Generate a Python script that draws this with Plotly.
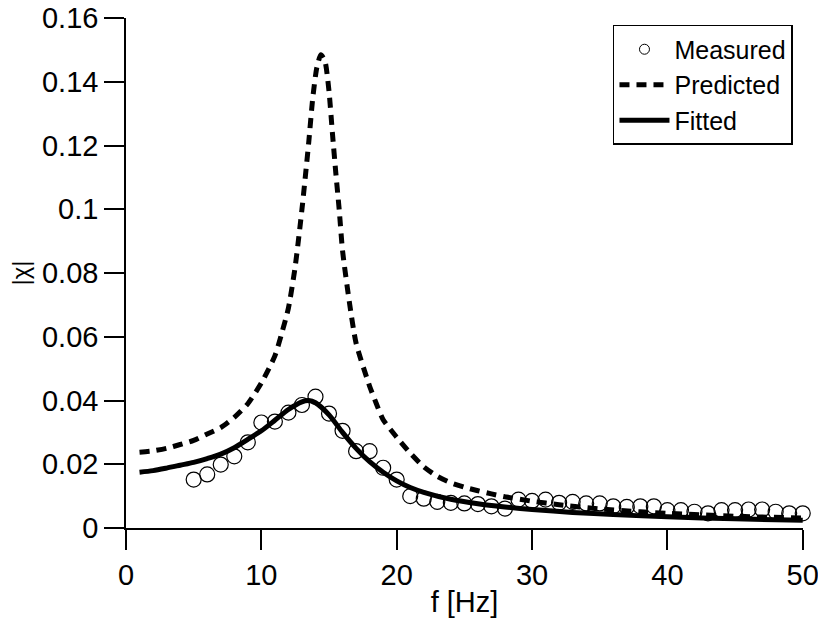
import plotly.graph_objects as go

# Measured data (open circles)
meas_f = list(range(5, 51))
meas_chi = [0.0152, 0.0168, 0.0199, 0.0225, 0.0269, 0.0331, 0.0334, 0.0362, 0.0386, 0.0412,
            0.0359, 0.0305, 0.0241, 0.0241, 0.0189, 0.0152, 0.0100, 0.0092, 0.0082, 0.0079,
            0.0077, 0.0075, 0.0068, 0.0061, 0.0089, 0.0085, 0.0089, 0.0079, 0.0082, 0.0077,
            0.0077, 0.0068, 0.0066, 0.0068, 0.0068, 0.0056, 0.0056, 0.0051, 0.0046, 0.0056,
            0.0056, 0.0058, 0.0058, 0.0051, 0.0046, 0.0046]

# Predicted curve (dashed)
pred_f = [1, 2, 3, 4, 5, 6, 7, 8, 9, 10, 11, 11.5, 12, 12.5, 13, 13.5, 13.8, 14.1, 14.4,
          14.7, 15.0, 15.25, 15.5, 15.75, 16, 16.5, 17, 18, 18.5, 19, 20, 21, 22, 23, 24,
          25, 26, 27, 28, 30, 32, 35, 38, 40, 45, 50]
pred_chi = [0.0238, 0.0242, 0.0250, 0.0262, 0.0275, 0.0295, 0.0315, 0.0347, 0.0390, 0.0455,
            0.0540, 0.0610, 0.0690, 0.0820, 0.1000, 0.1210, 0.1350, 0.1445, 0.1485,
            0.1465, 0.1370, 0.1240, 0.1115, 0.1000, 0.0870, 0.0710, 0.0580, 0.0445, 0.0390,
            0.0340, 0.0285, 0.0235, 0.0192, 0.0162, 0.0142, 0.0128, 0.0117, 0.0107, 0.0098,
            0.0084, 0.0073, 0.0060, 0.0051, 0.0046, 0.0037, 0.0031]

# Fitted curve (solid)
fit_f = [1, 2, 3, 4, 5, 6, 7, 8, 9, 10, 11, 12, 13, 13.5, 14, 15, 16, 17, 18, 19, 20, 21,
         22, 24, 26, 28, 30, 33, 36, 40, 45, 50]
fit_chi = [0.0175, 0.0180, 0.0188, 0.0197, 0.0206, 0.0218, 0.0232, 0.0252, 0.0278, 0.0305,
           0.0338, 0.0372, 0.0396, 0.0400, 0.0393, 0.0355, 0.0300, 0.0250, 0.0208, 0.0175,
           0.0148, 0.0127, 0.0112, 0.0090, 0.0076, 0.0066, 0.0058, 0.0049, 0.0042, 0.0035,
           0.0029, 0.0024]

x_ticks = [0, 10, 20, 30, 40, 50]
y_ticks = [0, 0.02, 0.04, 0.06, 0.08, 0.1, 0.12, 0.14, 0.16]
y_tick_text = ["0", "0.02", "0.04", "0.06", "0.08", "0.1", "0.12", "0.14", "0.16"]

FONT = "Liberation Sans, Arial, Helvetica, sans-serif"

fig = go.Figure()
fig.add_trace(go.Scatter(
    x=meas_f, y=meas_chi, mode="markers", name="Measured", showlegend=False,
    marker=dict(symbol="circle-open", size=15, color="black", line=dict(width=1.2, color="black")),
    cliponaxis=False,
))
# legend entry for measured with smaller symbol (no data drawn)
fig.add_trace(go.Scatter(
    x=[None], y=[None], mode="markers", name="Measured", legendrank=1,
    marker=dict(symbol="circle-open", size=10, color="black", line=dict(width=1, color="black")),
))
fig.add_trace(go.Scatter(
    x=pred_f, y=pred_chi, mode="lines", name="Predicted", legendrank=2,
    line=dict(color="black", width=5, dash="10px,7px", shape="spline", smoothing=0.6),
))
fig.add_trace(go.Scatter(
    x=fit_f, y=fit_chi, mode="lines", name="Fitted", legendrank=3,
    line=dict(color="black", width=5, shape="spline", smoothing=0.8),
))

fig.update_layout(
    width=818, height=620,
    margin=dict(l=126, r=15, t=18, b=92),
    paper_bgcolor="white", plot_bgcolor="white",
    font=dict(family=FONT, color="black", size=29),
    showlegend=True,
    legend=dict(
        x=0.9852, y=0.9863, xanchor="right", yanchor="top",
        bgcolor="white", bordercolor="black", borderwidth=1.5,
        font=dict(size=25, family=FONT), tracegroupgap=0,
        itemwidth=50,
    ),
    xaxis=dict(
        range=[0, 50.02], tickvals=x_ticks, ticktext=[str(v) for v in x_ticks],
        showgrid=False, zeroline=False, showline=True, linecolor="black", linewidth=1.5,
        ticks="outside", ticklen=20, tickwidth=1.5, tickcolor="black",
        tickfont=dict(size=29), ticklabeloverflow="allow", automargin=False,
        title=dict(text="f [Hz]", font=dict(size=29), standoff=2),
    ),
    yaxis=dict(
        range=[0, 0.16004], tickvals=y_ticks, ticktext=y_tick_text,
        showgrid=False, zeroline=False, showline=True, linecolor="black", linewidth=1.5,
        ticks="outside", ticklen=20, tickwidth=1.5, tickcolor="black",
        tickfont=dict(size=29), ticklabeloverflow="allow", automargin=False,
        title=dict(text="|χ|", font=dict(size=24), standoff=6),
    ),
)

fig.write_html("out.html")
